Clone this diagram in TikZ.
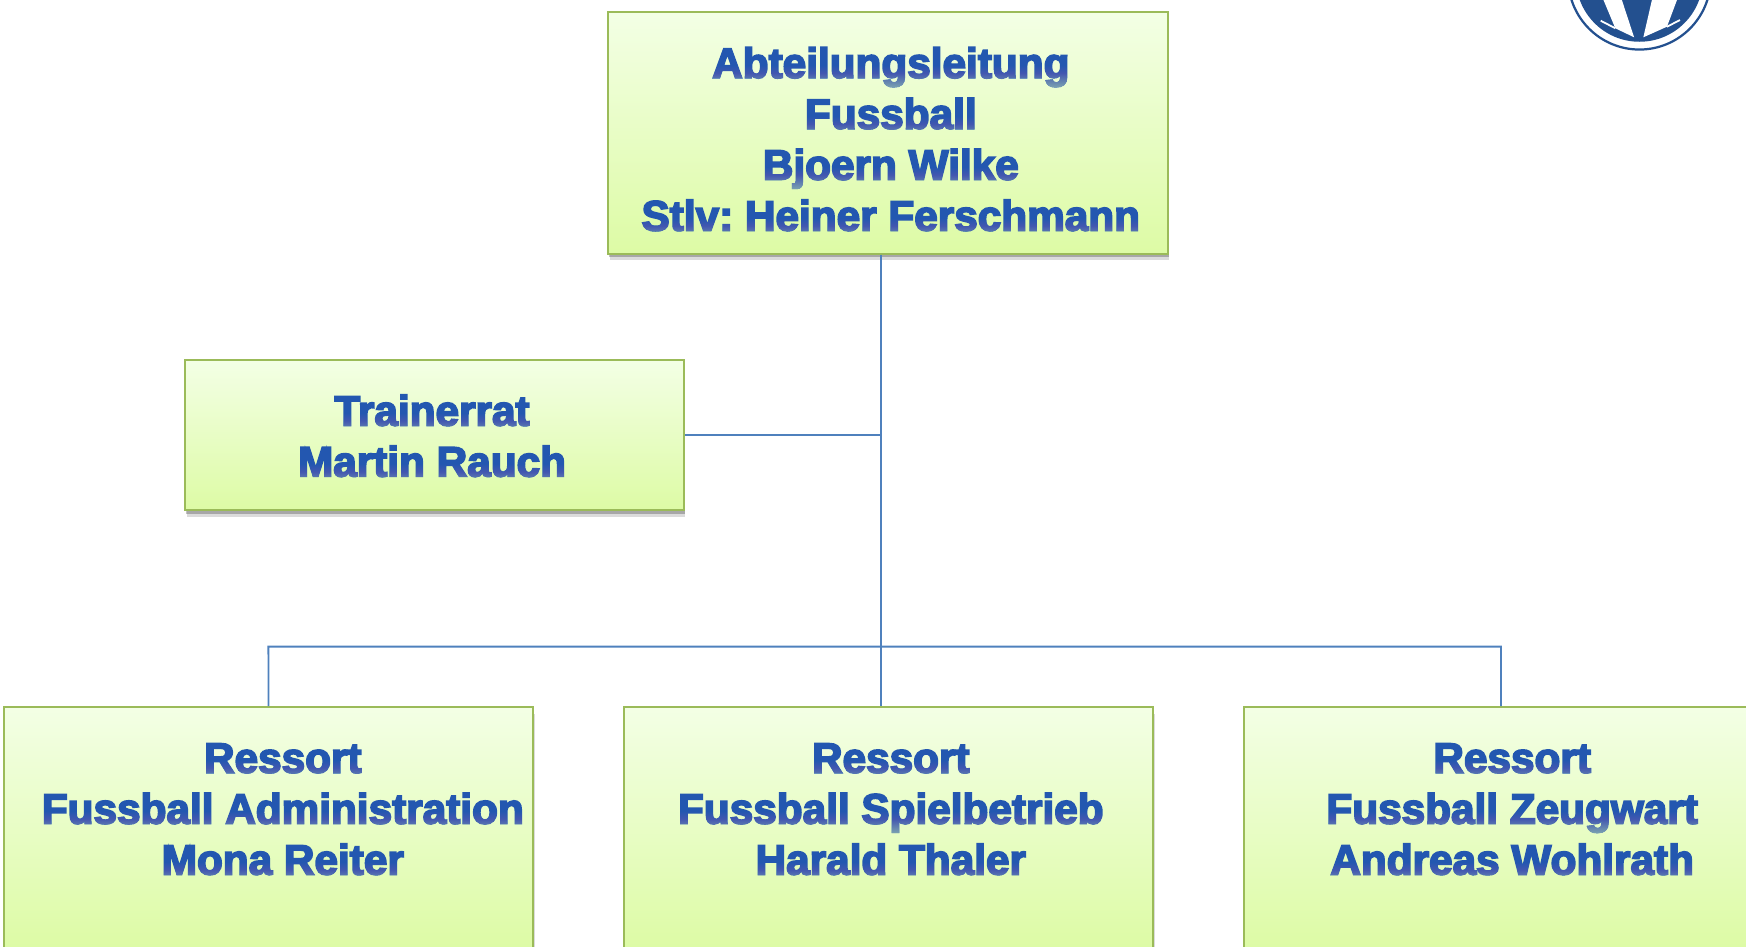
\documentclass[tikz,border=0pt]{standalone}
\usepackage{fontspec}
\usetikzlibrary{shadows}
\newfontfamily\labfont[FakeBold=4]{Liberation Sans Bold}
\definecolor{boxline}{HTML}{9BBB59}
\definecolor{boxtop}{HTML}{F3FFE5}
\definecolor{boxbot}{HTML}{DDFBA5}
\definecolor{wire}{HTML}{4F81BD}
\definecolor{labfill}{HTML}{2357B0}
\definecolor{logoblue}{HTML}{23508F}
\definecolor{bandlow}{RGB}{125,165,165}
\pgfdeclareverticalshading{bandshade}{100bp}{color(0bp)=(bandlow); color(25bp)=(bandlow); color(62bp)=(black); color(100bp)=(black)}
\tikzset{
  x=1pt,y=-1pt,
  greenbox/.style={draw=boxline,line width=1.8pt,top color=boxtop,bottom color=boxbot,
    middle color=boxtop!50!boxbot,
    general shadow={fill=black,opacity=.14,shadow yshift=-6pt,shadow xshift=1.2pt},
    preaction={draw=none,fill=black,fill opacity=.24,transform canvas={yshift=-3.2pt,xshift=0.8pt}},
    inner sep=0pt,minimum width=#1},
  wirepath/.style={draw=wire,line width=1.6pt},
  boxlabel/.style={anchor=base,align=center,inner sep=0pt,text=labfill,
    font=\labfont\fontsize{38}{45.7}\selectfont\frenchspacing\special{pdf:code 0.36 0.55 0.86 RG}},
  glowband/.style={shading=bandshade,blend mode=lighten},
}
\newcommand{\glowline}[3]{\path[glowband] (#1,#3-29) rectangle (#2,#3+9);}
\begin{document}
\begin{tikzpicture}
\useasboundingbox (0,0) rectangle (1568,850.4);
\begin{scope}
\clip (0,0) rectangle (1568,850.4);
% logo
\path[draw=logoblue,line width=2pt,fill=white] (1472.3,-19.5) circle (64);
\path[fill=logoblue] (1472.3,-19.5) circle (57);
\path[fill=white] (1440,0) -- (1456.5,0) -- (1467.5,33.5) -- (1450.6,25.4) -- cycle;
\path[fill=white] (1483.5,0) -- (1506,0) -- (1497,24) -- (1475.8,33.5) -- cycle;
\path[draw=white,line width=1.6pt] (1437.5,18.6) -- (1450.6,25.4);
\path[draw=white,line width=1.6pt] (1508.7,18) -- (1497,24);
% boxes
\node[greenbox=502.5pt,minimum height=217pt] (top) at (797.5,119.3) {};
\node[greenbox=448pt,minimum height=135pt] (trainer) at (390.3,390.8) {};
\node[greenbox=475.5pt,minimum height=217pt] (resa) at (241.2,743.5) {};
\node[greenbox=475.5pt,minimum height=217pt] (resb) at (798,743.5) {};
\node[greenbox=475.5pt,minimum height=217pt] (resc) at (1355,743.5) {};
% junctions
\coordinate (trunktop) at ([xshift=-6.5pt]top.south);
\coordinate (jtrain) at (791,390.8);
\coordinate (jbus) at (791,580.7);
\coordinate (busl) at (241,580.7);
\coordinate (busr) at (1348,580.7);
\coordinate (dropb) at ([xshift=-7pt]resb.north);
\coordinate (dropc) at ([xshift=-7pt]resc.north);
\draw[wirepath] (trunktop) -- (jtrain) -- (jbus) -- (dropb);
\draw[wirepath] (trainer.east) -- (jtrain);
\draw[wirepath] (resa.north) -- (busl) -- (jbus) -- (busr) -- (dropc);
% texts
\node[boxlabel] (toptext) at (800,207) {Abteilungsleitung\\Fussball\\Bjoern Wilke\\Stlv: Heiner Ferschmann};
\node[boxlabel] (traintext) at (388,427.8) {Trainerrat\\Martin Rauch};
\node[boxlabel] (atext) at (254,785.3) {Ressort\\Fussball Administration\\Mona Reiter};
\node[boxlabel] (btext) at (800,785.3) {Ressort\\Fussball Spielbetrieb\\Harald Thaler};
\node[boxlabel] (ctext) at (1358,785.3) {Ressort\\Fussball Zeugwart\\Andreas Wohlrath};
% vertical light fall-off inside the lettering
\foreach \ly in {69.9,115.6,161.3,207}{\glowline{560}{1040}{\ly}}
\foreach \ly in {382.1,427.8}{\glowline{180}{600}{\ly}}
\foreach \ly in {693.9,739.6,785.3}{\glowline{20}{476}{\ly}\glowline{575}{1020}{\ly}\glowline{1130}{1550}{\ly}}
\end{scope}
\end{tikzpicture}
\end{document}
